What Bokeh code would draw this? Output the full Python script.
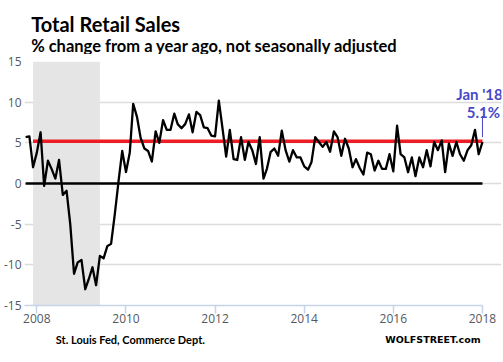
import pandas as pd
from bokeh.plotting import figure
from bokeh.layouts import column
from bokeh.models import (Range1d, FixedTicker, DatetimeTickFormatter, BoxAnnotation,
                          Label, CustomJSTickFormatter)
from bokeh.embed import file_html
from bokeh.resources import INLINE

# ---------------- data ----------------
first_month = "2007-10-01"
retail_yoy = [
    5.7, 5.8, 2.0,                                              # Oct-Dec 2007
    3.8, 6.3, -0.3, 2.8, 1.8, 0.6, 2.9, -1.4, -0.9, -5.0, -11.1, -9.7,   # 2008
    -9.4, -13.0, -11.8, -10.3, -12.5, -8.9, -9.2, -7.7, -7.4, -3.8, 0.3, 4.0,  # 2009
    1.4, 3.8, 9.8, 8.2, 5.6, 4.3, 4.0, 2.7, 6.4, 5.0, 7.8, 6.6,  # 2010
    6.6, 8.6, 7.3, 6.8, 7.3, 8.5, 6.3, 8.8, 8.4, 6.9, 6.8, 5.9,  # 2011
    5.8, 10.2, 6.9, 3.3, 6.6, 3.0, 2.9, 5.7, 2.9, 5.1, 4.1, 2.4,  # 2012
    5.7, 0.6, 1.8, 3.9, 4.3, 3.4, 6.5, 4.1, 2.7, 4.1, 3.2, 3.2,  # 2013
    2.1, 1.7, 2.6, 5.7, 5.1, 4.5, 5.1, 3.9, 6.4, 5.7, 3.4, 5.5,  # 2014
    4.3, 2.0, 3.0, 1.9, 1.1, 3.8, 3.6, 1.6, 2.8, 1.8, 1.8, 3.6,  # 2015
    1.5, 7.1, 3.6, 3.2, 1.4, 3.2, 0.9, 3.2, 2.0, 4.1, 2.1, 5.1,  # 2016
    4.1, 5.3, 1.4, 4.9, 3.4, 5.1, 3.6, 2.8, 4.1, 4.7, 6.6, 3.6,  # 2017
    5.1,                                                        # Jan 2018
]
months = pd.date_range(first_month, periods=len(retail_yoy), freq="MS")

recession_start = pd.Timestamp("2007-12-01")
recession_end = pd.Timestamp("2009-06-01")
red_level = 5.2
red_start = pd.Timestamp("2007-12-01")
tick_years = [2008, 2010, 2012, 2014, 2016, 2018]
y_ticks = [-15, -10, -5, 0, 5, 10, 15]
title_text = "Total Retail Sales"
subtitle_text = "% change from a year ago, not seasonally adjusted"
source_text = "St. Louis Fed, Commerce Dept."
brand_text = "WOLFSTREET.com"
last_label = "Jan '18"
last_value_label = "5.1%"

# ---------------- layout ----------------
W = 503
HEAD_H, FOOT_H = 54, 30
MAIN_H = 362 - HEAD_H - FOOT_H
TXT_FONT = "Lato"


def blank_fig(h, y_top):
    f = figure(width=W, height=h, output_backend="svg", toolbar_location=None,
               x_range=Range1d(0, W), y_range=Range1d(y_top + h, y_top),
               x_axis_location=None, y_axis_location=None,
               min_border_left=0, min_border_right=0, min_border_top=0, min_border_bottom=0)
    f.grid.visible = False
    f.outline_line_color = None
    f.background_fill_color = "white"
    f.border_fill_color = "white"
    return f


# header
head = blank_fig(HEAD_H, 0)
head.add_layout(Label(x=7, y=23, text=title_text, text_align="left", text_baseline="alphabetic",
                      text_font=TXT_FONT, text_font_style="bold", text_font_size="20px",
                      text_color="black"))
head.add_layout(Label(x=7, y=45, text=subtitle_text, text_align="left", text_baseline="alphabetic",
                      text_font=TXT_FONT, text_font_style="bold", text_font_size="16.5px",
                      text_color="black"))

# main chart
x_start = pd.Timestamp("2007-09-22")
x_end = pd.Timestamp("2018-06-06")
p = figure(width=W, height=MAIN_H, output_backend="svg", toolbar_location=None,
           x_axis_type="datetime",
           x_range=Range1d(x_start, x_end), y_range=Range1d(-15, 15),
           min_border_left=19, min_border_right=2, min_border_top=61 - HEAD_H,
           min_border_bottom=MAIN_H - (305 - HEAD_H))
p.outline_line_color = None
p.background_fill_color = "white"
p.border_fill_color = "white"

p.xgrid.grid_line_color = None
p.ygrid.ticker = FixedTicker(ticks=y_ticks)
p.ygrid.grid_line_color = "#dcdcdc"
p.ygrid.grid_line_width = 1.5
try:
    p.ygrid.cross_bounds = (x_start, months[-1])
except Exception:
    pass

tick_font = "Open Sans"
p.yaxis.ticker = FixedTicker(ticks=y_ticks)
p.yaxis.formatter = CustomJSTickFormatter(code="return tick.toString();")
p.yaxis.axis_line_color = None
p.yaxis.major_tick_line_color = None
p.yaxis.minor_tick_line_color = None
p.yaxis.major_tick_out = 0
p.yaxis.major_tick_in = 0
p.yaxis.minor_tick_out = 0
p.yaxis.minor_tick_in = 0
p.yaxis.major_label_standoff = 3
p.yaxis.major_label_text_font = tick_font
p.yaxis.major_label_text_font_size = "12px"
p.yaxis.major_label_text_color = "#55595f"

year_ms = [pd.Timestamp(f"{y}-01-01").value // 10**6 for y in tick_years]
p.xaxis.ticker = FixedTicker(ticks=year_ms)
p.xaxis.formatter = DatetimeTickFormatter(years="%Y", months="%Y", days="%Y")
p.xaxis.bounds = (x_start, months[-1])
p.xaxis.axis_line_color = "#c6d3e8"
p.xaxis.axis_line_width = 1.5
p.xaxis.major_tick_line_color = "#c6d3e8"
p.xaxis.major_tick_line_width = 1.5
p.xaxis.major_tick_out = 8
p.xaxis.major_tick_in = 0
p.xaxis.minor_tick_line_color = None
p.xaxis.minor_tick_out = 0
p.xaxis.major_label_standoff = 0
p.xaxis.major_label_text_font = tick_font
p.xaxis.major_label_text_font_size = "12px"
p.xaxis.major_label_text_color = "#55595f"

# recession shading
p.add_layout(BoxAnnotation(left=recession_start, right=recession_end,
                           fill_color="#e5e5e5", fill_alpha=1.0, line_color=None,
                           level="underlay"))

# zero line
p.line(x=[months[0], months[-1]], y=[0, 0], line_color="black", line_width=2.5)

# red reference line
p.line(x=[red_start, months[-1]], y=[red_level, red_level], line_color="#ee1c25", line_width=3.5)

# data
p.line(x=months, y=retail_yoy, line_color="black", line_width=2.3, line_join="round")

# annotation of the last value
ann_color = "#4848c8"
last_x = months[-1]
last_y = retail_yoy[-1]
p.segment(x0=[last_x], y0=[last_y + 0.6], x1=[last_x], y1=[last_y + 3.2],
          line_color=ann_color, line_width=1)
p.add_layout(Label(x=last_x, y=212, x_units="data", y_units="screen", text=last_label,
                   text_align="center", x_offset=-3, text_baseline="alphabetic",
                   text_font=TXT_FONT, text_font_style="bold", text_font_size="15px",
                   text_color=ann_color))
p.add_layout(Label(x=last_x, y=194, x_units="data", y_units="screen", text=last_value_label,
                   text_align="center", x_offset=1, text_baseline="alphabetic",
                   text_font=TXT_FONT, text_font_style="bold", text_font_size="15px",
                   text_color=ann_color))

# footer
foot = blank_fig(FOOT_H, 362 - FOOT_H)
foot.add_layout(Label(x=33, y=339, text=source_text, text_align="left", text_baseline="alphabetic",
                      text_font=TXT_FONT, text_font_style="bold", text_font_size="11px",
                      text_color="black"))
foot.add_layout(Label(x=481, y=339, text=brand_text, text_align="right", text_baseline="alphabetic",
                      text_font="DejaVu Sans", text_font_style="bold", text_font_size="9.5px",
                      text_color="black"))

layout = column(head, p, foot, spacing=0)
open("out.html", "w").write(file_html(layout, INLINE))
